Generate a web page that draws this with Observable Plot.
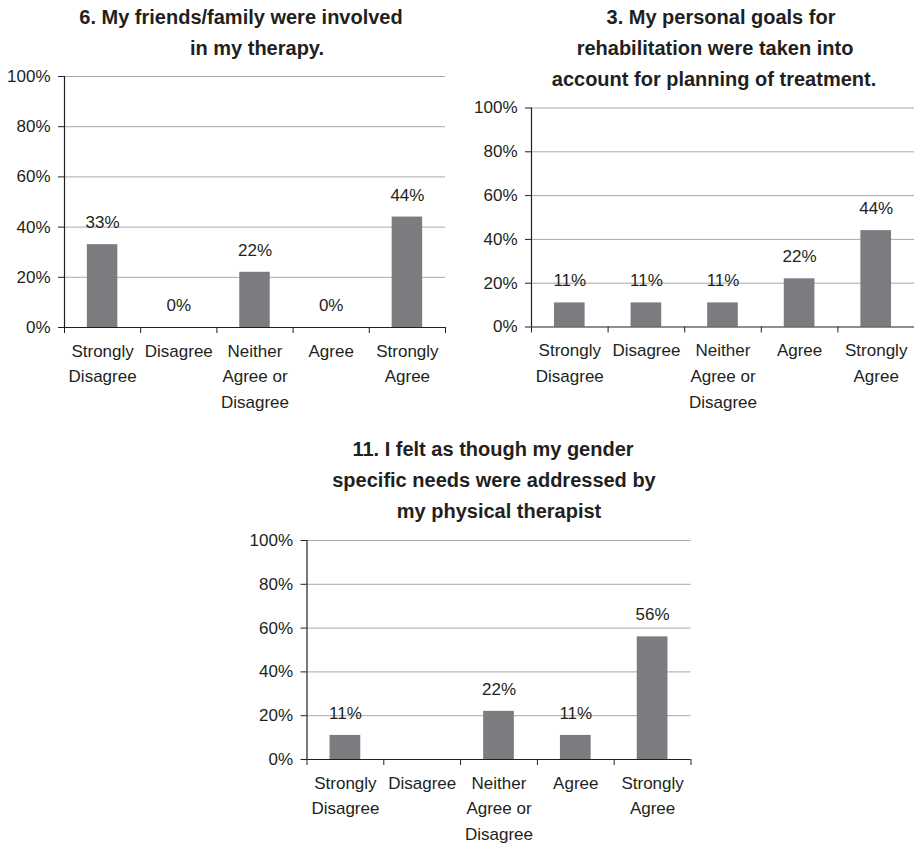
<!DOCTYPE html>
<html>
<head>
<meta charset="utf-8">
<script src="https://cdn.jsdelivr.net/npm/d3@7"></script>
<script src="https://cdn.jsdelivr.net/npm/@observablehq/plot@0.6"></script>
<style>
  html, body { margin: 0; padding: 0; background: #fff; overflow: hidden; }
  #wrap { position: relative; width: 914px; height: 843px; font-family: "Liberation Sans", Arial, sans-serif; color: #231f20; }
  .panel { position: absolute; }
  .tline { position: absolute; font-weight: bold; font-size: 20px; line-height: 31px; white-space: nowrap; text-align: center; width: 600px; }
</style>
</head>
<body>
<div id="wrap"></div>
<script>
// ---- data ----
const categories = ["Strongly\nDisagree", "Disagree", "Neither\nAgree or\nDisagree", "Agree", "Strongly\nAgree"];
const yTicks = [0, 20, 40, 60, 80, 100];

const title1 = ["6. My friends/family were involved", "in my therapy."];
const values1 = [33, 0, 22, 0, 44];

const title2 = ["3. My personal goals for", "rehabilitation were taken into", "account for planning of treatment."];
const values2 = [11, 11, 11, 22, 44];

const title3 = ["11. I felt as though my gender", "specific needs were addressed by", "my physical therapist"];
const values3 = [11, null, 22, 11, 56];

// ---- drawing ----
const wrap = document.getElementById("wrap");
const BAR = "#7b7c80", GRID = "#a9a9a9", AXIS = "#231f20";

function addTitle(lines, centers, top) {
  lines.forEach((t, i) => {
    const d = document.createElement("div");
    d.className = "tline";
    d.textContent = t;
    d.style.left = (centers[i] - 300) + "px";
    d.style.top = (top + i * 31) + "px";
    wrap.appendChild(d);
  });
}

function addChart(values, box) {
  const data = categories.map((c, i) => ({cat: c, value: values[i], i}));
  const chart = Plot.plot({
    width: box.width,
    height: box.height,
    marginLeft: box.ml,
    marginRight: box.mr,
    marginTop: box.mt,
    marginBottom: box.mb,
    style: {fontFamily: "Liberation Sans, Arial, sans-serif", fontSize: "17px", color: AXIS, background: "transparent"},
    x: {type: "linear", domain: [0, categories.length]},
    y: {domain: [0, 100]},
    marks: [
      Plot.gridY(yTicks.filter(t => t > 0), {stroke: GRID, strokeOpacity: 1}),
      Plot.rectY(data, {x1: d => d.i + 0.3, x2: d => d.i + 0.7, y: "value", fill: BAR}),
      Plot.ruleY([0], {stroke: AXIS, strokeWidth: 1.2}),
      Plot.ruleX([0], {stroke: AXIS, strokeWidth: 1.2}),
      Plot.axisY({ticks: yTicks, tickFormat: d => d + "%", tickSize: 6, tickPadding: 8, stroke: AXIS, fontSize: 17, fill: AXIS, label: null}),
      Plot.axisX({ticks: d3.range(0, categories.length + 1), tickSize: 6, tickFormat: () => "", stroke: AXIS, label: null}),
      Plot.axisX({ticks: categories.map((c, i) => i + 0.5), tickSize: 0, tickPadding: 11, lineHeight: 1.51,
                  tickFormat: v => categories[Math.floor(v)], fontSize: 17, fill: AXIS, label: null}),
      Plot.text(data.filter(d => d.value != null), {x: d => d.i + 0.5, y: "value", text: d => d.value + "%",
                  dy: -22, fontSize: 17, fill: AXIS, lineAnchor: "middle"})
    ]
  });
  const holder = document.createElement("div");
  holder.className = "panel";
  holder.style.left = box.left + "px";
  holder.style.top = box.top + "px";
  holder.appendChild(chart);
  wrap.appendChild(holder);
}

addTitle(title1, [241, 257], 2);
addChart(values1, {left: 0, top: 60, width: 460, height: 360, ml: 64, mr: 15, mt: 16, mb: 93});

addTitle(title2, [721, 715, 714], 2);
addChart(values2, {left: 460, top: 90, width: 454, height: 330, ml: 71, mr: 0, mt: 17.5, mb: 93.5});

addTitle(title3, [493, 494, 499], 434);
addChart(values3, {left: 230, top: 520, width: 480, height: 323, ml: 76.5, mr: 19.5, mt: 20, mb: 84});
</script>
</body>
</html>
